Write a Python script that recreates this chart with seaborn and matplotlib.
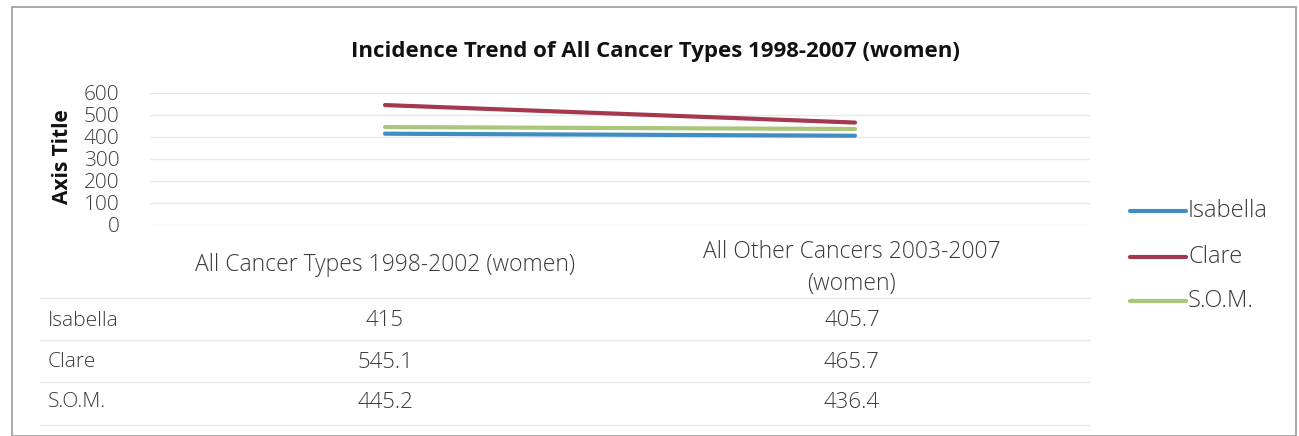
import matplotlib
matplotlib.use("Agg")
import matplotlib.pyplot as plt
from matplotlib.lines import Line2D
from matplotlib.patches import Rectangle
import seaborn as sns
import pandas as pd

categories = ["All Cancer Types 1998-2002 (women)", "All Other Cancers 2003-2007\n(women)"]
series_names = ["Isabella", "Clare", "S.O.M."]
isabella = [415, 405.7]
clare = [545.1, 465.7]
som = [445.2, 436.4]
value_labels = [["415", "405.7"], ["545.1", "465.7"], ["445.2", "436.4"]]
yticks = [0, 100, 200, 300, 400, 500, 600]
title = "Incidence Trend of All Cancer Types 1998-2007 (women)"
ylabel = "Axis Title"

colors = ["#3F8DC2", "#A3384F", "#A8C77A"]

rows = []
for name, vals in zip(series_names, [isabella, clare, som]):
    for i, v in enumerate(vals):
        rows.append({"pos": i, "value": v, "series": name})
df = pd.DataFrame(rows)

sns.set_theme(style="white")
plt.rcParams["font.family"] = ["Open Sans", "DejaVu Sans"]

W, H = 1299, 436
fig = plt.figure(figsize=(W / 100, H / 100), dpi=100)

def fx(px):
    return px / W

def fy(py):
    return 1 - py / H

TXT = "#3a3a3a"
LW = "light"

# outer border
fig.add_artist(Rectangle((fx(12), fy(436)), fx(1296) - fx(12), fy(7) - fy(436),
                         transform=fig.transFigure, fill=False, edgecolor="#9a9a9a", lw=1.2))

ax = fig.add_axes([fx(150), fy(225), fx(1090) - fx(150), fy(93) - fy(225)])
sns.lineplot(data=df, x="pos", y="value", hue="series", palette=colors,
             hue_order=series_names, ax=ax, linewidth=3.0, legend=False)
ax.set_xlim(-0.5, 1.5)
ax.set_ylim(0, 600)
ax.set_yticks(yticks)
ax.set_yticklabels([str(t) for t in yticks], fontsize=15, color=TXT, fontweight=LW)
ax.set_xticks([])
ax.set_xlabel("")
ax.set_ylabel("")
ax.grid(axis="y", color="#e8e8e8", lw=1)
for s in ax.spines.values():
    s.set_visible(False)
ax.tick_params(axis="y", length=0, pad=22)

fig.text(fx(655), fy(51), title, ha="center", va="center", fontsize=16,
         fontweight="bold", color="#111111")
fig.text(fx(62), fy(157), ylabel, ha="center", va="center", rotation=90,
         fontsize=15, fontweight="bold", color="#111111")

# category labels (data table header)
cat_x = [385, 852]
fig.text(fx(cat_x[0]), fy(265), categories[0], ha="center", va="center",
         fontsize=16.5, color=TXT, fontweight=LW)
fig.text(fx(cat_x[1]), fy(268), categories[1], ha="center", va="center",
         fontsize=16.5, color=TXT, linespacing=1.4, fontweight=LW)

# table grid lines
for yl in [298, 340, 382, 425]:
    fig.add_artist(Line2D([fx(40), fx(1090)], [fy(yl), fy(yl)], transform=fig.transFigure,
                          color="#e8e8e8", lw=1))

row_y = [321, 362, 402]
for name, vals, ry in zip(series_names, value_labels, row_y):
    fig.text(fx(48), fy(ry), name, ha="left", va="center", fontsize=15, color=TXT,
             fontweight=LW)
    for cx, v in zip(cat_x, vals):
        fig.text(fx(cx), fy(ry), v, ha="center", va="center", fontsize=16, color=TXT,
                 fontweight=LW)

# legend
leg_y = [211, 257, 301]
for name, c, ly in zip(series_names, colors, leg_y):
    fig.add_artist(Line2D([fx(1130), fx(1186)], [fy(ly), fy(ly)], transform=fig.transFigure,
                          color=c, lw=3.0))
    fig.text(fx(1188), fy(ly), name, ha="left", va="center", fontsize=17, color=TXT,
             fontweight=LW)

fig.savefig("out.png", dpi=100)
